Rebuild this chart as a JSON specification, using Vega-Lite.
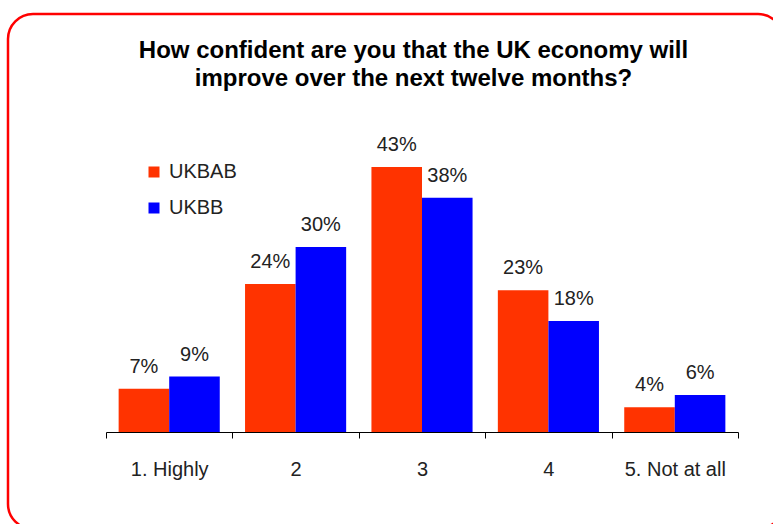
{
  "$schema": "https://vega.github.io/schema/vega-lite/v6.json",
  "autosize": "none",
  "width": 775,
  "height": 515,
  "padding": {"left": 8, "top": 14, "right": 0, "bottom": 0},
  "background": "white",
  "title": {
    "text": ["How confident are you that the UK economy will", "improve over the next twelve months?"],
    "anchor": "middle",
    "frame": "group",
    "offset": -77,
    "dx": 18,
    "font": "Liberation Sans",
    "fontSize": 24,
    "fontWeight": "bold",
    "color": "#000000",
    "lineHeight": 28
  },
  "config": {
    "view": {"stroke": "#FF0000", "strokeWidth": 2.5, "cornerRadius": 25},
    "font": "Liberation Sans"
  },
  "data": {
    "values": [
      {"cat": "1. Highly", "series": "UKBAB", "value": 0.07},
      {"cat": "1. Highly", "series": "UKBB", "value": 0.09},
      {"cat": "2", "series": "UKBAB", "value": 0.24},
      {"cat": "2", "series": "UKBB", "value": 0.30},
      {"cat": "3", "series": "UKBAB", "value": 0.43},
      {"cat": "3", "series": "UKBB", "value": 0.38},
      {"cat": "4", "series": "UKBAB", "value": 0.23},
      {"cat": "4", "series": "UKBB", "value": 0.18},
      {"cat": "5. Not at all", "series": "UKBAB", "value": 0.04},
      {"cat": "5. Not at all", "series": "UKBB", "value": 0.06}
    ]
  },
  "encoding": {
    "x": {
      "field": "cat",
      "type": "nominal",
      "sort": null,
      "scale": {"range": [98, 730], "paddingInner": 0, "paddingOuter": 0},
      "axis": {
        "title": null,
        "labelAngle": 0,
        "offset": -97,
        "domainColor": "#000000",
        "domainWidth": 1,
        "tickColor": "#000000",
        "tickSize": 6,
        "tickBand": "extent",
        "labelFontSize": 20,
        "labelColor": "#222222",
        "labelPadding": 21,
        "labelFont": "Liberation Sans"
      }
    },
    "xOffset": {
      "field": "series",
      "type": "nominal",
      "scale": {"paddingInner": 0, "paddingOuter": 0.25}
    },
    "y": {
      "field": "value",
      "type": "quantitative",
      "scale": {"domain": [0, 0.43], "range": [418, 153], "nice": false, "zero": true},
      "axis": null
    }
  },
  "layer": [
    {
      "mark": {"type": "bar"},
      "encoding": {
        "color": {
          "field": "series",
          "type": "nominal",
          "scale": {"domain": ["UKBAB", "UKBB"], "range": ["#FF3300", "#0000FF"]},
          "legend": {
            "title": null,
            "orient": "none",
            "legendX": 136,
            "legendY": 148,
            "symbolType": "square",
            "symbolSize": 121,
            "symbolStrokeWidth": 0,
            "labelFontSize": 20,
            "labelColor": "#222222",
            "labelOffset": 5,
            "rowPadding": 16,
            "padding": 0
          }
        }
      }
    },
    {
      "mark": {"type": "text", "baseline": "alphabetic", "dy": -16, "fontSize": 20, "color": "#222222"},
      "encoding": {
        "text": {"field": "value", "type": "quantitative", "format": ".0%"},
        "detail": {"field": "series"}
      }
    }
  ]
}
